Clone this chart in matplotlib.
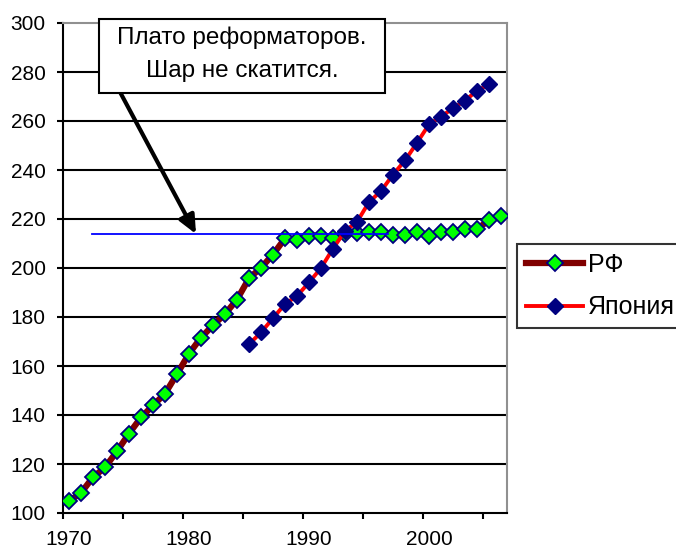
import matplotlib
matplotlib.use("Agg")
import matplotlib.pyplot as plt
from matplotlib.ticker import FixedLocator, NullFormatter
from matplotlib.patches import Rectangle

plt.rcParams['font.family'] = ['Liberation Sans', 'DejaVu Sans']

years_rf = list(range(1970, 2007))
rf = [104.9, 108.2, 114.6, 118.6, 125.2, 132.4, 139.0, 143.9, 148.7, 156.7,
      165.0, 171.6, 176.6, 181.2, 187.1, 195.8, 200.1, 205.5, 212.1, 211.3,
      213.2, 213.2, 212.3, 214.0, 214.4, 214.7, 214.7, 213.6, 213.6, 214.7,
      212.9, 214.7, 214.7, 216.0, 216.0, 219.4, 221.2]
years_jp = list(range(1985, 2006))
jp = [168.9, 173.7, 179.5, 185.3, 188.6, 194.1, 200.0, 207.9, 215.1, 218.8,
      226.9, 231.4, 238.1, 243.9, 251.1, 258.6, 261.8, 265.2, 268.3, 272.4, 274.9]
plateau_level = 213.7
plateau_span = [1972.4, 1997.1]
xtick_labels = ['1970', '1980', '1990', '2000']
annotation_lines = ['Плато реформаторов.', 'Шар не скатится.']

W, H = 676, 554
fig = plt.figure(figsize=(W / 100, H / 100), dpi=100)
x0, x1, y0, y1 = 63, 507, 23, 513
ax = fig.add_axes([x0 / W, 1 - y1 / H, (x1 - x0) / W, (y1 - y0) / H])

xr = [y + 0.5 for y in years_rf]
xj = [y + 0.5 for y in years_jp]

ax.set_xlim(1970, 2007)
ax.set_ylim(100, 300)

for v in range(120, 300, 20):
    ax.axhline(v, color='black', lw=1.5, zorder=1)

ax.plot(xr, rf, color='#800000', lw=4.5, marker='D', ms=7.8,
        mfc='#00FF00', mec='#000080', mew=1.3, zorder=4, label='РФ')
ax.plot(xj, jp, color='#FF0000', lw=2.8, marker='D', ms=8.5,
        mfc='#000080', mec='#000080', mew=1, zorder=5, label='Япония')

ax.plot(plateau_span, [plateau_level, plateau_level], color='#0000FF', lw=1.3, zorder=6)

ax.set_yticks(range(100, 301, 20))
ax.tick_params(axis='y', direction='out', length=4.5, width=1.5, labelsize=15, pad=8)
ax.xaxis.set_major_locator(FixedLocator(list(range(1970, 2007, 5))))
ax.xaxis.set_major_formatter(NullFormatter())
ax.tick_params(axis='x', which='major', direction='out', length=4.5, width=1.5)
ax.xaxis.set_minor_locator(FixedLocator([int(t) + 0.5 for t in xtick_labels]))
ax.set_xticklabels(xtick_labels, minor=True)
ax.tick_params(axis='x', which='minor', length=0, labelsize=15, pad=12)

ax.spines['left'].set_linewidth(1.5)
ax.spines['bottom'].set_linewidth(1.5)
for s in ('top', 'right'):
    ax.spines[s].set_color('#909090')
    ax.spines[s].set_linewidth(1.5)

# annotation text box (figure pixel coords)
fig.patches.append(Rectangle((99 / W, 1 - 93 / H), (385 - 99) / W, (93 - 19) / H,
                             transform=fig.transFigure, fc='white', ec='black', lw=1.5, zorder=10))
fig.text(242 / W, 1 - 38 / H, annotation_lines[0], ha='center', va='center', fontsize=17.5, zorder=11)
fig.text(242 / W, 1 - 71 / H, annotation_lines[1], ha='center', va='center', fontsize=17.5, zorder=11)

ax.annotate('', xy=(196 / W, 1 - 234 / H), xycoords='figure fraction',
            xytext=(120 / W, 1 - 92 / H), textcoords='figure fraction',
            arrowprops=dict(arrowstyle='-|>,head_length=1.1,head_width=0.5', color='black', lw=3,
                            shrinkA=0, shrinkB=0), zorder=12)

leg = fig.legend(loc='upper left', bbox_to_anchor=(517 / W, 1 - 244 / H), frameon=True,
                 fontsize=18, handlelength=2.3, handletextpad=0.2, borderpad=0.35,
                 labelspacing=0.75, borderaxespad=0, fancybox=False)
leg.get_frame().set_edgecolor('black')
leg.get_frame().set_linewidth(1.5)

fig.savefig('out.png', dpi=100)
